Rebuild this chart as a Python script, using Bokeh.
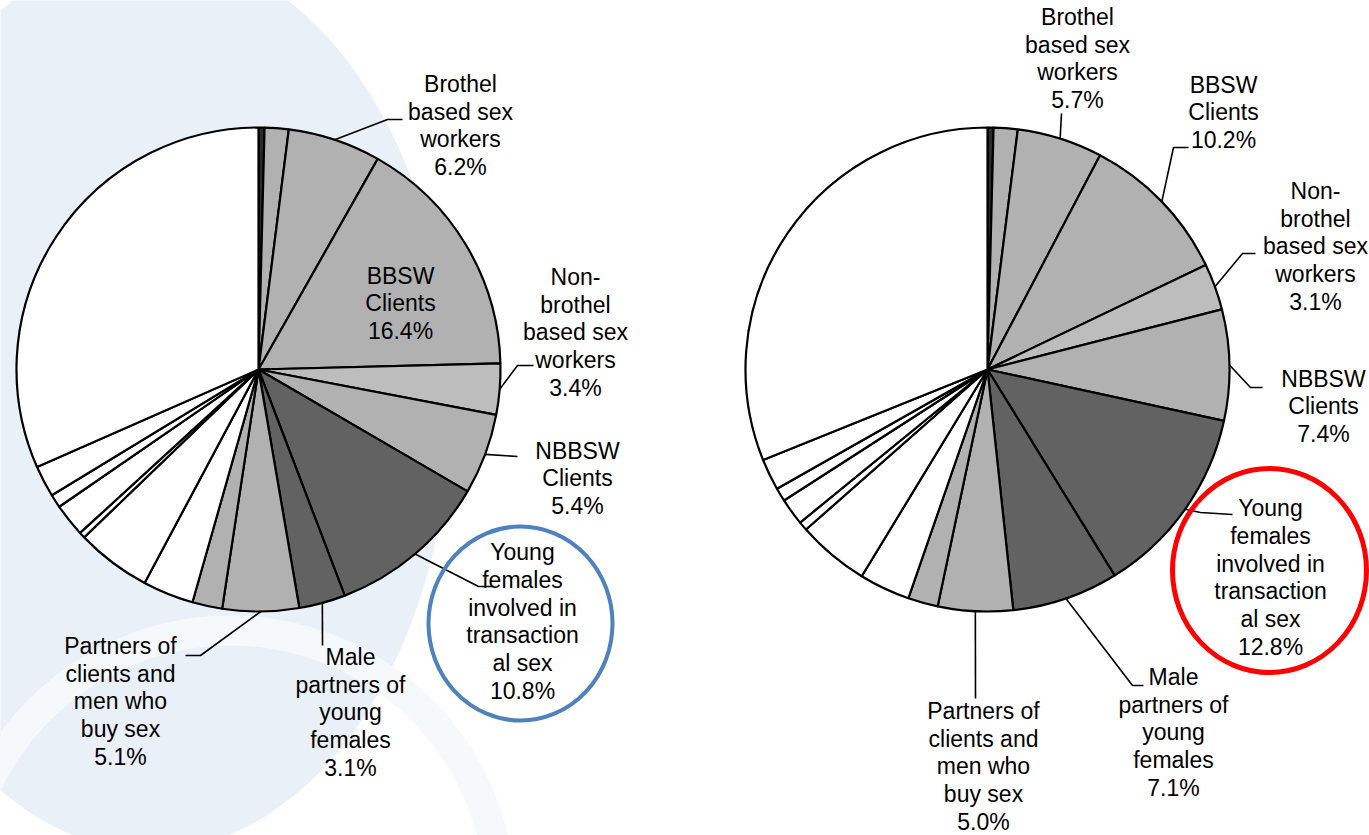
import math
from bokeh.plotting import figure
from bokeh.models import ColumnDataSource, Range1d
from bokeh.core.properties import value
from bokeh.embed import file_html
from bokeh.resources import INLINE

# ---------------- data ----------------
# slice shares (%) clockwise from 12 o'clock
left_values = [0.4, 1.6, 6.2, 16.4, 3.4, 5.4, 10.8, 3.1, 5.1, 2.0, 3.4, 5.0, 0.4, 2.2, 0.9, 2.1, 31.6]
right_values = [0.4, 1.6, 5.7, 10.2, 3.1, 7.4, 12.8, 7.1, 5.0, 2.0, 3.4, 4.8, 0.6, 1.8, 0.9, 2.1, 31.1]
# shade group of each slice
shades = ["black", "gray", "gray", "gray", "light", "gray", "dark", "dark", "gray",
          "gray", "white", "white", "white", "white", "white", "white", "white"]
# labelled slices (index into the value arrays) and their names
label_index = [2, 3, 4, 5, 6, 7, 8]
label_names = ["Brothel\nbased sex\nworkers", "BBSW\nClients", "Non-\nbrothel\nbased sex\nworkers",
               "NBBSW\nClients", "Young\nfemales\ninvolved in\ntransaction\nal sex",
               "Male\npartners of\nyoung\nfemales", "Partners of\nclients and\nmen who\nbuy sex"]

# ---------------- layout ----------------
W, H = 1369, 835
shade_color = {"black": "#2b2b2b", "gray": "#b1b1b1", "light": "#bdbdbd", "dark": "#626262", "white": "#ffffff"}
R = 242

def Y(y):
    return H - y

pies = [
    dict(values=left_values, cx=258, cy=369,
         label_pos=[(460, 125), (400, 303), (575, 332), (577, 478), (522, 621), (350, 712), (120, 701)],
         elbows=[[(387, 119), (402, 119)], None, [(517, 365), (533, 365)], [(517, 456)],
                 [(478, 586), (492, 586)], [(322, 645)], [(200, 655), (185, 655)]],
         ring=dict(x=520, y=623, w=184, h=194, color="#4f81bd", lw=4)),
    dict(values=right_values, cx=987, cy=369,
         label_pos=[(1077, 58), (1223, 112), (1315, 246), (1323, 406), (1270, 577), (1173, 732), (983, 766)],
         elbows=[[(1061, 113)], [(1173, 147), (1188, 147)], [(1242, 253), (1255, 253)],
                 [(1250, 387), (1262, 387)], [(1200, 512), (1232, 514)], [(1132, 685), (1143, 685)],
                 [(975, 698)]],
         ring=dict(x=1269, y=570, w=194, h=204, color="#ff0000", lw=5)),
]

p = figure(width=W, height=H, x_range=Range1d(0, W), y_range=Range1d(0, H),
           toolbar_location=None, output_backend="svg", min_border=0)
p.axis.visible = False
p.grid.visible = False
p.outline_line_color = None
p.background_fill_color = "white"
p.border_fill_color = "white"

# faint watermark in the background
p.ellipse(x=[150], y=[Y(400)], width=[600], height=[900], fill_color="#e9f0f7",
          line_color=None)
p.annular_wedge(x=[230], y=[Y(900)], inner_radius=[255], outer_radius=[285],
                start_angle=[0], end_angle=[math.pi], fill_color="#f6f9fc", line_color=None)

for pie in pies:
    vals = pie["values"]
    total = sum(vals)
    cum = [0.0]
    for v in vals:
        cum.append(cum[-1] + v)
    starts = [math.pi / 2 - 2 * math.pi * c / total for c in cum[:-1]]
    ends = [math.pi / 2 - 2 * math.pi * c / total for c in cum[1:]]
    src = ColumnDataSource(dict(
        x=[pie["cx"]] * len(vals), y=[Y(pie["cy"])] * len(vals),
        start=starts, end=ends, color=[shade_color[s] for s in shades]))
    p.wedge(x="x", y="y", radius=R, start_angle="start", end_angle="end",
            direction="clock", fill_color="color", line_color="black", line_width=2.2,
            source=src)

    # labels and leader lines
    xs, ys, tx, ty, tt = [], [], [], [], []
    for k, idx in enumerate(label_index):
        mid = (cum[idx] + cum[idx + 1]) / 2 / total * 2 * math.pi
        lx, ly = pie["label_pos"][k]
        tx.append(lx)
        ty.append(Y(ly))
        tt.append(label_names[k] + "\n" + f"{vals[idx]:.1f}%")
        el = pie["elbows"][k]
        if el:
            sx = pie["cx"] + R * math.sin(mid)
            sy = pie["cy"] - R * math.cos(mid)
            pts = [(sx, sy)] + el
            xs.append([q[0] for q in pts])
            ys.append([Y(q[1]) for q in pts])
    p.multi_line(xs=xs, ys=ys, line_color="black", line_width=1.6)
    ring = pie["ring"]
    p.ellipse(x=[ring["x"]], y=[Y(ring["y"])], width=[ring["w"]], height=[ring["h"]],
              fill_color=None, line_color=ring["color"], line_width=ring["lw"])
    p.text(x=tx, y=ty, text=tt, text_align="center", text_baseline="middle",
           text_font=value("Liberation Sans"), text_font_size="23px", text_color="black",
           text_line_height=1.065)

open("out.html", "w").write(file_html(p, INLINE))
